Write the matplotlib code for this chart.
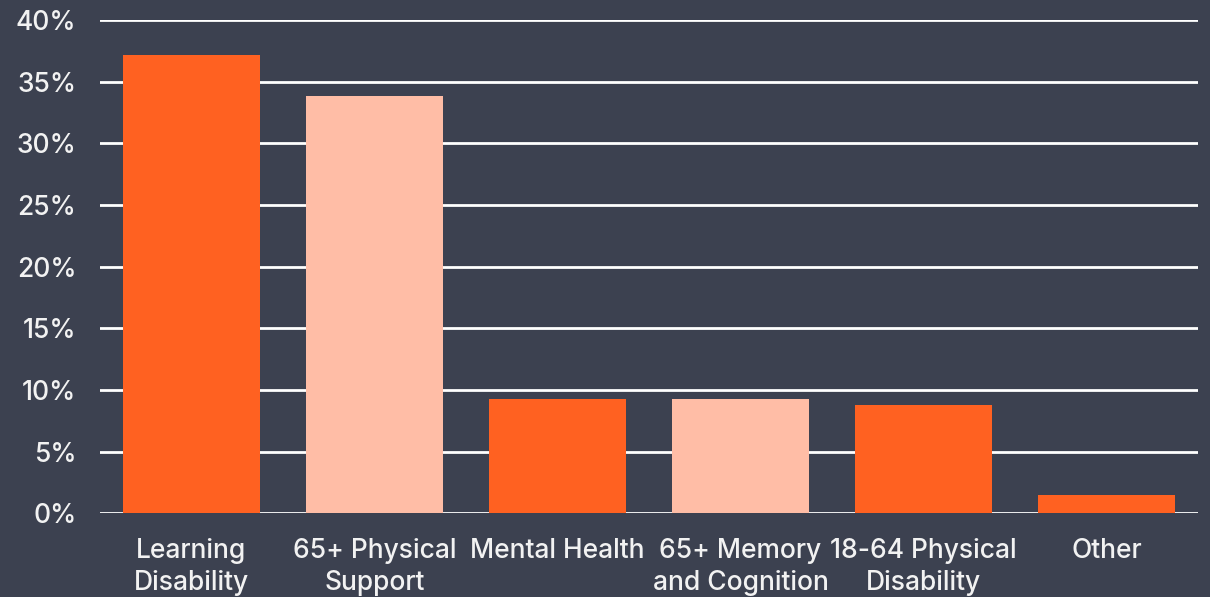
import matplotlib
matplotlib.use("Agg")
import matplotlib.pyplot as plt
from matplotlib.ticker import FuncFormatter

categories = ["Learning\nDisability", "65+ Physical\nSupport", "Mental Health",
              "65+ Memory\nand Cognition", "18-64 Physical\nDisability", "Other"]
values = [37.2, 33.8, 9.3, 9.3, 8.8, 1.5]
bar_colors = ["#FF6121", "#FFBDA6", "#FF6121", "#FFBDA6", "#FF6121", "#FF6121"]
yticks = [0, 5, 10, 15, 20, 25, 30, 35, 40]

bg = "#3C4150"
plt.rcParams['font.family'] = ['Inter', 'DejaVu Sans']

fig = plt.figure(figsize=(12.1, 5.97), dpi=100, facecolor=bg)
ax = fig.add_axes([0.0826, 0.140, 0.9076, 0.8265], facecolor=bg)

x = list(range(len(categories)))
ax.bar(x, values, width=0.75, color=bar_colors, zorder=3)

ax.set_xlim(-0.5, len(categories) - 0.5)
ax.set_ylim(0, 40)
ax.set_yticks(yticks)
ax.yaxis.set_major_formatter(FuncFormatter(lambda v, p: f"{v:.0f}%"))
ax.grid(axis='y', color='white', linewidth=2, zorder=1)
ax.set_axisbelow(True)

for s in ax.spines.values():
    s.set_visible(False)

ax.set_xticks(x)
ax.set_xticklabels(categories, color='#F2F2F2', fontsize=19, linespacing=1.3,
                   fontweight='medium')
for t in ax.get_yticklabels():
    t.set_fontweight('medium')
ax.tick_params(axis='x', length=0, pad=18)
ax.tick_params(axis='y', length=0, pad=17, labelcolor='#F2F2F2', labelsize=19)
for t in ax.get_yticklabels():
    t.set_fontweight('medium')

fig.savefig("out.png", dpi=100, facecolor=bg)
